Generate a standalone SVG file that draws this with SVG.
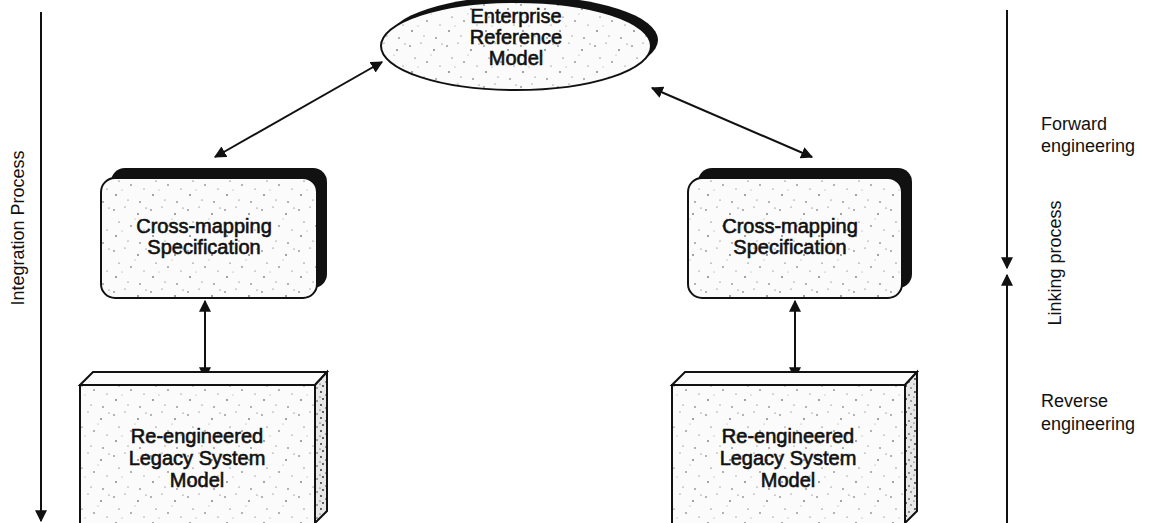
<svg xmlns="http://www.w3.org/2000/svg" width="1150" height="523" viewBox="0 0 1150 523">
<style>
.node{font-family:"Liberation Sans",Arial,sans-serif;font-size:20px;fill:#111;stroke:#111;stroke-width:0.6;text-anchor:middle}
.lbl{font-family:"Liberation Sans",Arial,sans-serif;font-size:18px;fill:#111}
.face{fill:url(#speck);stroke:#111;stroke-width:2}
.conn{stroke:#111;stroke-width:2;fill:none}
</style>
<defs>
<pattern id="speck" width="37" height="41" patternUnits="userSpaceOnUse">
<rect width="37" height="41" fill="#fbfbfb"/>
<g fill="#333">
<circle cx="3" cy="5" r="0.7"/><circle cx="14" cy="2" r="0.5"/><circle cx="27" cy="9" r="0.8"/>
<circle cx="8" cy="17" r="0.6"/><circle cx="20" cy="21" r="0.7"/><circle cx="33" cy="25" r="0.5"/>
<circle cx="5" cy="31" r="0.8"/><circle cx="17" cy="36" r="0.5"/><circle cx="29" cy="38" r="0.7"/>
<circle cx="24" cy="14" r="0.4"/><circle cx="11" cy="26" r="0.4"/><circle cx="35" cy="3" r="0.5"/>
</g>
</pattern>
<pattern id="speckdark" width="11" height="13" patternUnits="userSpaceOnUse">
<rect width="11" height="13" fill="#e8e8e8"/>
<g fill="#222">
<circle cx="2" cy="2" r="0.9"/><circle cx="7" cy="5" r="0.8"/><circle cx="4" cy="9" r="0.9"/><circle cx="9" cy="11" r="0.7"/><circle cx="1" cy="7" r="0.6"/>
</g>
</pattern>
<marker id="ah" viewBox="0 0 10 10" refX="9" refY="5" markerWidth="6" markerHeight="6" orient="auto-start-reverse" markerUnits="strokeWidth">
<path d="M0,0 L10,5 L0,10 z" fill="#111"/>
</marker>
</defs>

<g id="connectors">
<line class="conn" x1="382" y1="62" x2="215" y2="157" marker-start="url(#ah)" marker-end="url(#ah)"/>
<line class="conn" x1="652" y1="88" x2="812" y2="157" marker-start="url(#ah)" marker-end="url(#ah)"/>
<line class="conn" x1="205" y1="301" x2="205" y2="378" marker-start="url(#ah)" marker-end="url(#ah)"/>
<line class="conn" x1="795" y1="301" x2="795" y2="378" marker-start="url(#ah)" marker-end="url(#ah)"/>
<line class="conn" x1="41" y1="12" x2="41" y2="521" marker-end="url(#ah)"/>
<line class="conn" x1="1007" y1="10" x2="1007" y2="268" marker-end="url(#ah)"/>
<line class="conn" x1="1007" y1="523" x2="1007" y2="275" marker-end="url(#ah)"/>
</g>

<g id="enterprise-reference-model">
<ellipse cx="523" cy="40" rx="135" ry="44" fill="#111"/>
<ellipse class="face" cx="516" cy="46" rx="135" ry="44"/>
<text class="node" x="516" y="23" font-size="18">Enterprise</text>
<text class="node" x="516" y="44" font-size="18">Reference</text>
<text class="node" x="516" y="65" font-size="18">Model</text>
</g>

<g id="cross-mapping-left">
<rect x="111" y="168" width="216" height="120" rx="14" fill="#111"/>
<rect class="face" x="101" y="178" width="216" height="120" rx="14"/>
<text class="node" x="204" y="233">Cross-mapping</text>
<text class="node" x="204" y="254">Specification</text>
</g>

<g id="cross-mapping-right">
<rect x="698" y="168" width="214" height="120" rx="14" fill="#111"/>
<rect class="face" x="688" y="178" width="214" height="120" rx="14"/>
<text class="node" x="790" y="233">Cross-mapping</text>
<text class="node" x="790" y="254">Specification</text>
</g>

<g id="legacy-left">
<path d="M80,385 L93,372 L327,372 L315,385 z" fill="#fbfbfb" stroke="#111" stroke-width="2"/>
<path d="M315,385 L327,372 L327,511 L315,523 z" fill="url(#speckdark)" stroke="#111" stroke-width="2"/>
<rect class="face" x="80" y="385" width="235" height="140"/>
<text class="node" x="197" y="443">Re-engineered</text>
<text class="node" x="197" y="465">Legacy System</text>
<text class="node" x="197" y="487">Model</text>
</g>

<g id="legacy-right">
<path d="M672,385 L685,372 L917,372 L905,385 z" fill="#fbfbfb" stroke="#111" stroke-width="2"/>
<path d="M905,385 L917,372 L917,511 L905,523 z" fill="url(#speckdark)" stroke="#111" stroke-width="2"/>
<rect class="face" x="672" y="385" width="233" height="140"/>
<text class="node" x="788" y="443">Re-engineered</text>
<text class="node" x="788" y="465">Legacy System</text>
<text class="node" x="788" y="487">Model</text>
</g>

<g id="labels">
<text class="lbl" transform="translate(24,228) rotate(-90)" text-anchor="middle" font-size="16">Integration Process</text>
<text class="lbl" transform="translate(1061,263) rotate(-90)" text-anchor="middle">Linking process</text>
<text class="lbl" x="1041" y="130">Forward</text>
<text class="lbl" x="1041" y="152">engineering</text>
<text class="lbl" x="1041" y="407">Reverse</text>
<text class="lbl" x="1041" y="430">engineering</text>
</g>
</svg>
